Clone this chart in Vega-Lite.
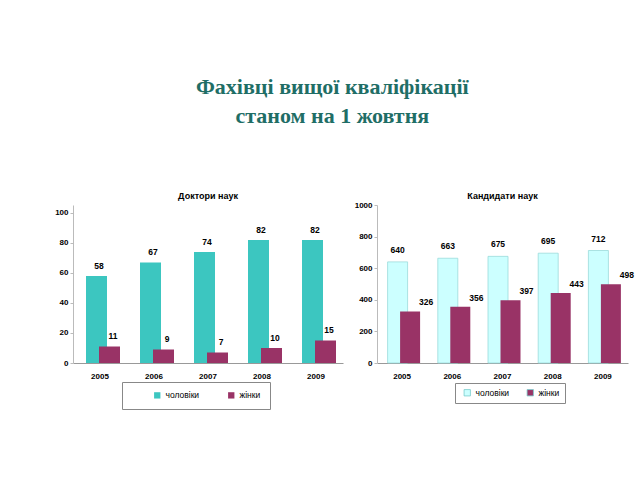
{
  "$schema": "https://vega.github.io/schema/vega-lite/v6.json",
  "padding": {"left": 54, "top": 76, "right": 5, "bottom": 5},
  "background": "white",
  "config": {"view": {"stroke": null}},
  "title": {
    "text": ["Фахівці вищої кваліфікації", "станом на 1 жовтня"],
    "font": "Liberation Serif",
    "fontSize": 22,
    "fontWeight": "bold",
    "color": "#1f6e66",
    "lineHeight": 29,
    "anchor": "middle",
    "dx": -12,
    "offset": 64
  },
  "datasets": {
    "doctors": [
      {"year": "2005", "sex": "чоловіки", "value": 58},
      {"year": "2006", "sex": "чоловіки", "value": 67},
      {"year": "2007", "sex": "чоловіки", "value": 74},
      {"year": "2008", "sex": "чоловіки", "value": 82},
      {"year": "2009", "sex": "чоловіки", "value": 82},
      {"year": "2005", "sex": "жінки", "value": 11},
      {"year": "2006", "sex": "жінки", "value": 9},
      {"year": "2007", "sex": "жінки", "value": 7},
      {"year": "2008", "sex": "жінки", "value": 10},
      {"year": "2009", "sex": "жінки", "value": 15}
    ],
    "candidates": [
      {"year": "2005", "sex": "чоловіки", "value": 640},
      {"year": "2006", "sex": "чоловіки", "value": 663},
      {"year": "2007", "sex": "чоловіки", "value": 675},
      {"year": "2008", "sex": "чоловіки", "value": 695},
      {"year": "2009", "sex": "чоловіки", "value": 712},
      {"year": "2005", "sex": "жінки", "value": 326},
      {"year": "2006", "sex": "жінки", "value": 356},
      {"year": "2007", "sex": "жінки", "value": 397},
      {"year": "2008", "sex": "жінки", "value": 443},
      {"year": "2009", "sex": "жінки", "value": 498}
    ]
  },
  "bounds": "flush",
  "spacing": 34,
  "resolve": {"scale": {"color": "independent", "y": "independent", "x": "independent"}, "legend": {"color": "independent"}},
  "hconcat": [
    {
      "width": 270,
      "height": 158,
      "data": {"name": "doctors"},
      "title": {"text": "Доктори наук", "fontSize": 9, "font": "Liberation Sans", "fontWeight": "bold", "color": "#000", "offset": 4},
      "encoding": {
        "x": {"field": "year", "type": "nominal", "title": null,
          "scale": {"paddingInner": 0, "paddingOuter": 0},
          "axis": {"labelAngle": 0, "labelFont": "Liberation Sans", "labelFontWeight": "bold", "labelFontSize": 8, "labelPadding": 9, "ticks": false, "domainColor": "#999"}},
        "y": {"field": "value", "type": "quantitative", "title": null,
          "scale": {"domain": [0, 105.33], "nice": false},
          "axis": {"values": [0, 20, 40, 60, 80, 100], "format": "d", "grid": false, "labelFont": "Liberation Sans", "labelFontWeight": "bold", "labelFontSize": 8, "tickSize": 3, "labelPadding": 2, "domainColor": "#bbb", "tickColor": "#bbb"}}
      },
      "layer": [
        {
          "transform": [{"filter": "datum.sex === 'чоловіки'"}],
          "mark": {"type": "bar", "width": 21, "xOffset": -3.5},
          "encoding": {"color": {"field": "sex", "type": "nominal", "title": null,
            "scale": {"domain": ["чоловіки", "жінки"], "range": ["#3cc6c0", "#993366"]},
            "legend": {"orient": "none", "legendX": 49, "legendY": 177, "direction": "horizontal", "symbolType": "square", "symbolSize": 40, "symbolOffset": 22, "labelFont": "Liberation Sans", "labelFontSize": 8.5, "columnPadding": 5, "padding": 9, "strokeColor": "#888", "symbolStrokeWidth": 0}}}
        },
        {
          "transform": [{"filter": "datum.sex === 'жінки'"}],
          "mark": {"type": "bar", "width": 21, "xOffset": 9.5},
          "encoding": {"color": {"field": "sex", "type": "nominal"}}
        },
        {
          "transform": [{"filter": "datum.sex === 'чоловіки'"}],
          "mark": {"type": "text", "xOffset": -1, "dy": -5, "baseline": "bottom", "font": "Liberation Sans", "fontWeight": "bold", "fontSize": 8.5},
          "encoding": {"text": {"field": "value", "type": "quantitative"}}
        },
        {
          "transform": [{"filter": "datum.sex === 'жінки'"}],
          "mark": {"type": "text", "xOffset": 13, "dy": -5, "baseline": "bottom", "font": "Liberation Sans", "fontWeight": "bold", "fontSize": 8.5},
          "encoding": {"text": {"field": "value", "type": "quantitative"}}
        }
      ]
    },
    {
      "width": 251,
      "height": 158,
      "data": {"name": "candidates"},
      "title": {"text": "Кандидати наук", "fontSize": 9, "font": "Liberation Sans", "fontWeight": "bold", "color": "#000", "offset": 0},
      "encoding": {
        "x": {"field": "year", "type": "nominal", "title": null,
          "scale": {"paddingInner": 0, "paddingOuter": 0},
          "axis": {"labelAngle": 0, "labelFont": "Liberation Sans", "labelFontWeight": "bold", "labelFontSize": 8, "labelPadding": 9, "ticks": false, "domainColor": "#999"}},
        "y": {"field": "value", "type": "quantitative", "title": null,
          "scale": {"domain": [0, 1000]},
          "axis": {"values": [0, 200, 400, 600, 800, 1000], "format": "d", "grid": false, "labelFont": "Liberation Sans", "labelFontWeight": "bold", "labelFontSize": 8, "tickSize": 3, "labelPadding": 2, "domainColor": "#bbb", "tickColor": "#bbb"}}
      },
      "layer": [
        {
          "transform": [{"filter": "datum.sex === 'чоловіки'"}],
          "mark": {"type": "bar", "width": 20, "xOffset": -4.5, "stroke": "#9adada", "strokeWidth": 0.8},
          "encoding": {"color": {"field": "sex", "type": "nominal", "title": null,
            "scale": {"domain": ["чоловіки", "жінки"], "range": ["#ccffff", "#993366"]},
            "legend": {"orient": "none", "legendX": 78, "legendY": 178, "direction": "horizontal", "symbolType": "square", "symbolSize": 40, "symbolOffset": 3, "labelFont": "Liberation Sans", "labelFontSize": 8.5, "columnPadding": 13, "padding": 5, "strokeColor": "#888", "symbolStrokeColor": "#7cc", "symbolStrokeWidth": 0.8}}}
        },
        {
          "transform": [{"filter": "datum.sex === 'жінки'"}],
          "mark": {"type": "bar", "width": 20, "xOffset": 8},
          "encoding": {"color": {"field": "sex", "type": "nominal"}}
        },
        {
          "transform": [{"filter": "datum.sex === 'чоловіки'"}],
          "mark": {"type": "text", "xOffset": -4.5, "dy": -7, "baseline": "bottom", "font": "Liberation Sans", "fontWeight": "bold", "fontSize": 8.5},
          "encoding": {"text": {"field": "value", "type": "quantitative"}}
        },
        {
          "transform": [{"filter": "datum.sex === 'жінки'"}],
          "mark": {"type": "text", "xOffset": 24, "dy": -4, "baseline": "bottom", "font": "Liberation Sans", "fontWeight": "bold", "fontSize": 8.5},
          "encoding": {"text": {"field": "value", "type": "quantitative"}}
        }
      ]
    }
  ]
}
